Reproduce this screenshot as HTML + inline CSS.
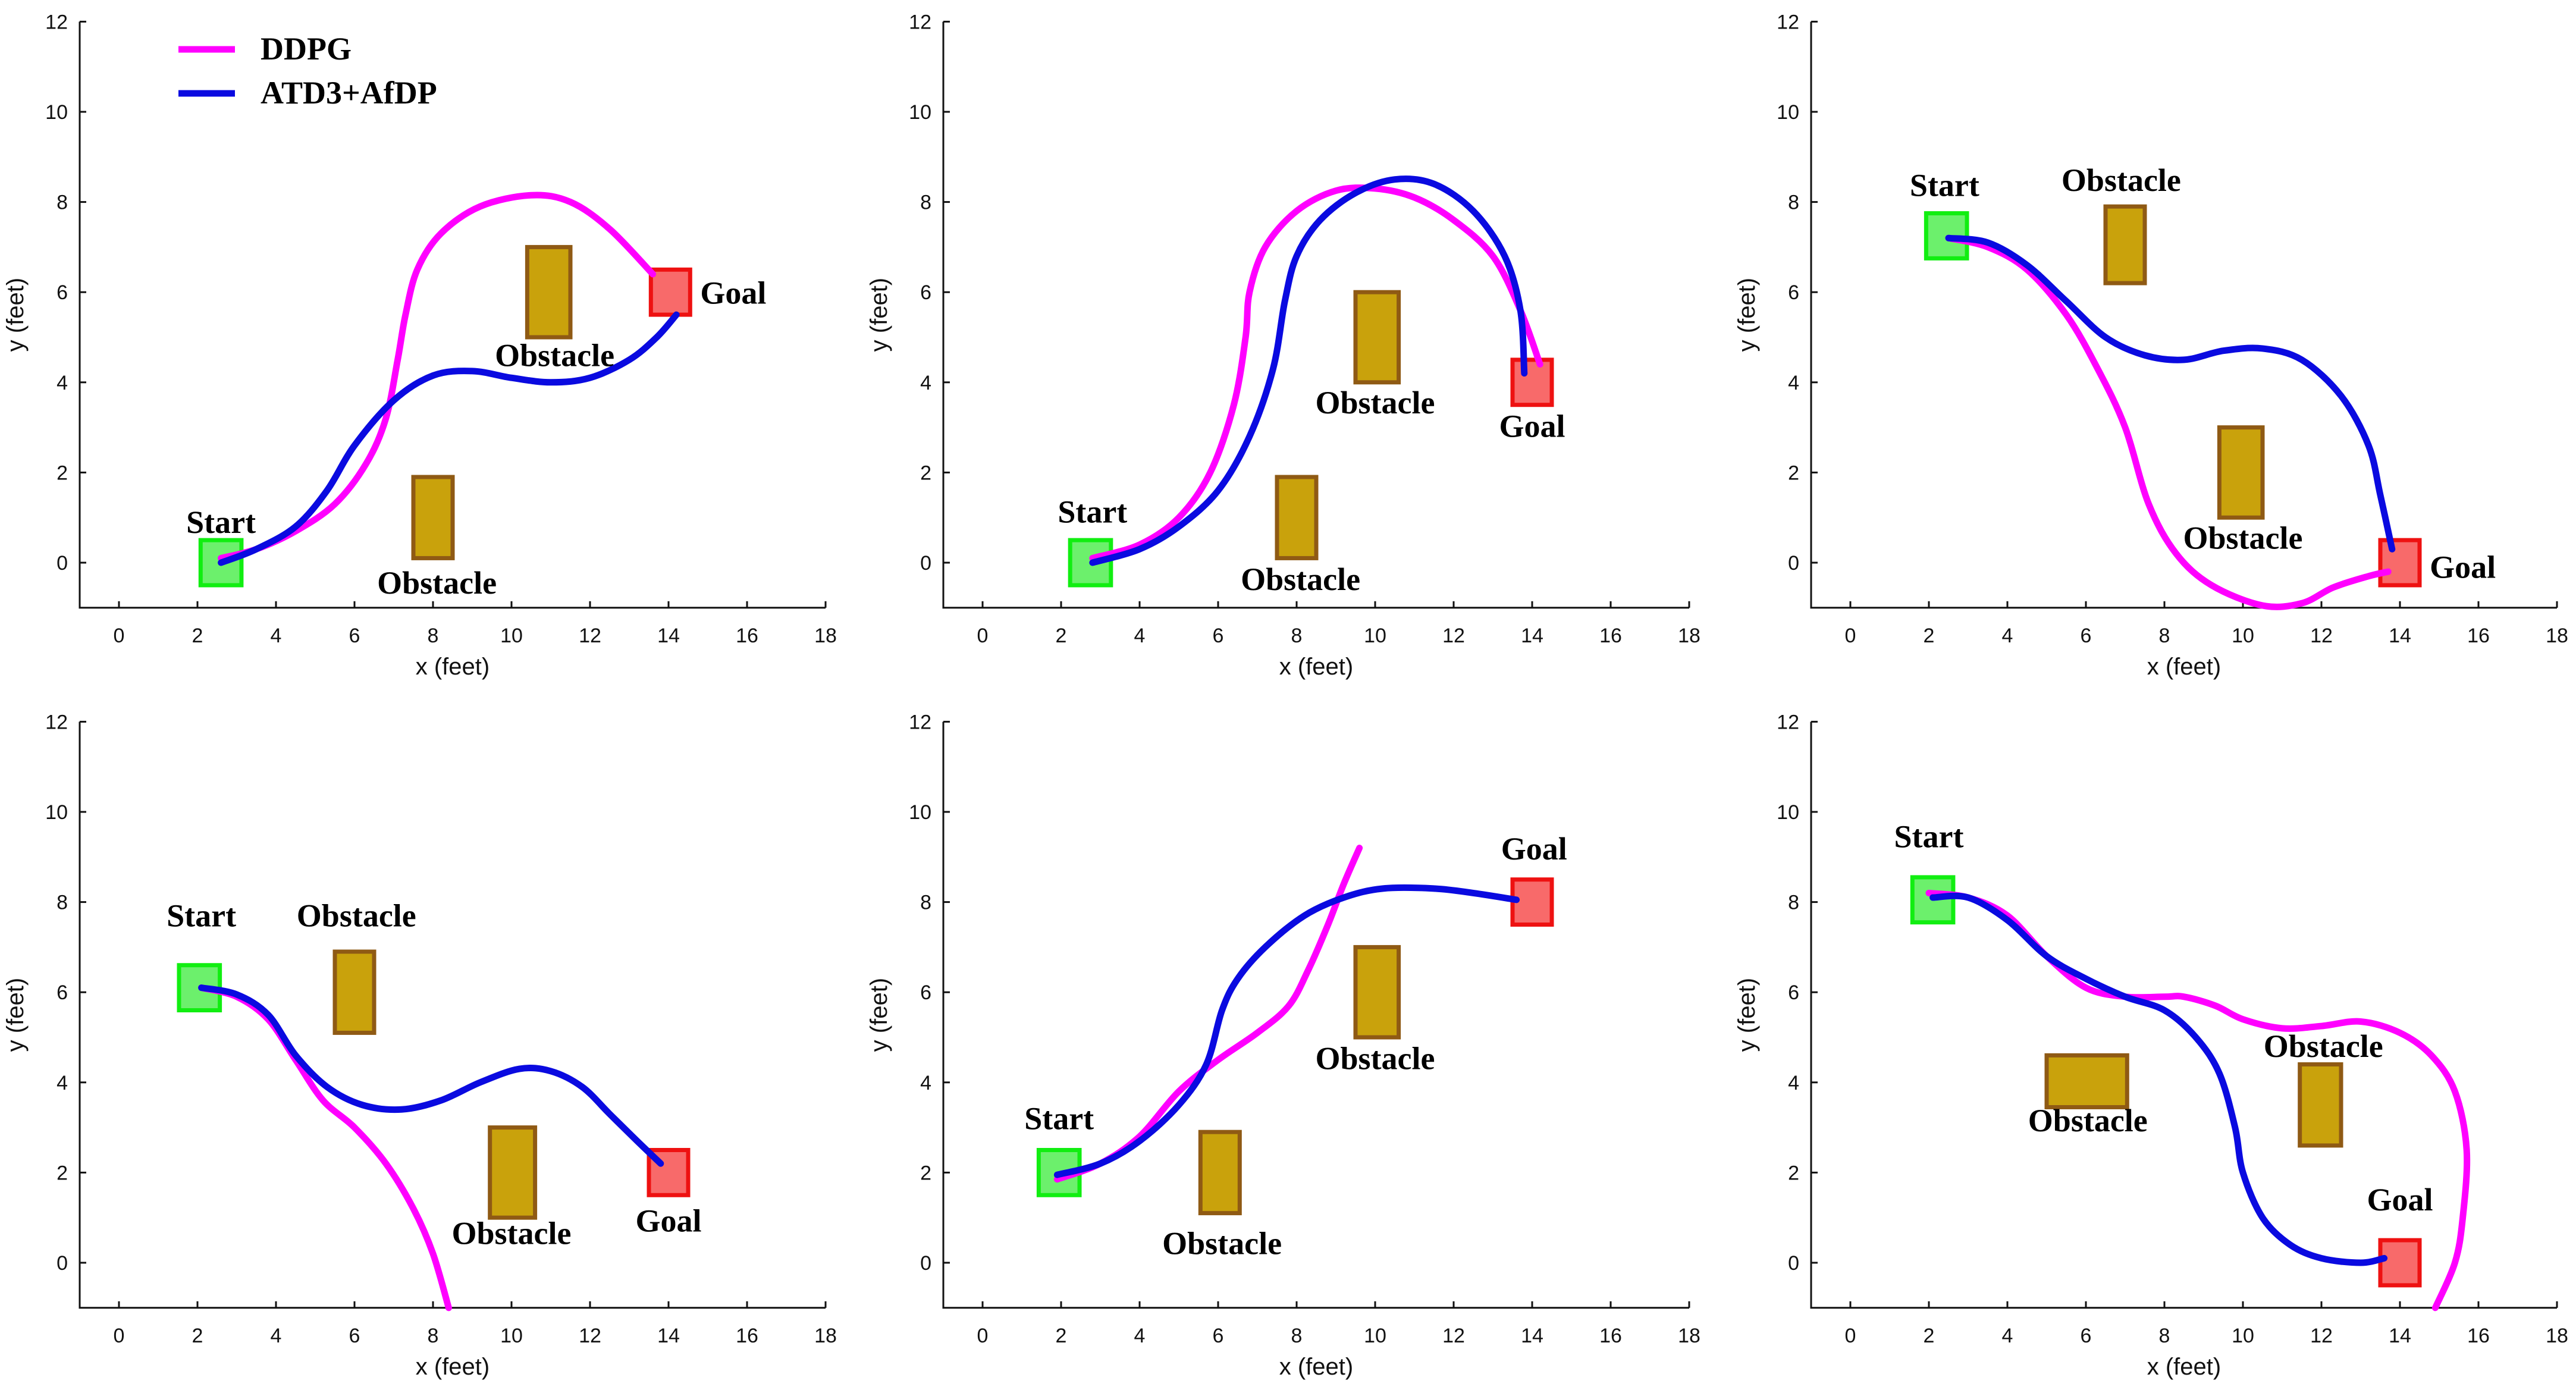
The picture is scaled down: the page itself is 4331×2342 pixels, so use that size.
<!DOCTYPE html>
<html><head><meta charset="utf-8"><style>
html,body{margin:0;padding:0;background:#fff;}
svg{display:block;}
.tick{font-family:"Liberation Sans",sans-serif;font-size:34px;fill:#111;}
.axl{font-family:"Liberation Sans",sans-serif;font-size:40px;fill:#111;}
.ann{font-family:"Liberation Serif",serif;font-weight:bold;font-size:54px;fill:#000;}
</style></head><body>
<svg id="chart" width="4331" height="2342" viewBox="0 0 4331 2342" xmlns="http://www.w3.org/2000/svg"></svg>
<script>
const xTicks=[0,2,4,6,8,10,12,14,16,18];
const yTicks=[0,2,4,6,8,10,12];
const colX0=[200,1652,3111];
const rowY0=[946,2123];
const UX=66,UY=75.8;

const p1Start=[2.6,0], p1Goal=[14.05,6];
const p1Obs=[[7.5,0.1,8.5,1.9],[10.4,5,11.5,7]];
const p1Ddpg=[[2.6,0.1],[3.5,0.3],[4.5,0.7],[5.5,1.3],[6.3,2.2],[6.8,3.2],[7.1,4.5],[7.3,5.5],[7.6,6.5],[8.2,7.3],[9.2,7.9],[10.5,8.15],[11.5,8.0],[12.5,7.4],[13.6,6.4]];
const p1Atd3=[[2.6,0],[3.5,0.3],[4.5,0.8],[5.3,1.6],[6,2.6],[7,3.6],[8,4.15],[9,4.25],[10,4.1],[11,4.0],[12,4.1],[13,4.5],[13.7,5.0],[14.2,5.5]];

const p2Start=[2.75,0], p2Goal=[14.0,4];
const p2Obs=[[7.5,0.1,8.5,1.9],[9.5,4,10.6,6]];
const p2Ddpg=[[2.8,0.1],[4,0.4],[5,1.0],[5.8,2.0],[6.4,3.5],[6.7,5],[6.8,6.0],[7.2,7.0],[8,7.8],[9,8.25],[10,8.3],[11,8.1],[12,7.6],[13,6.8],[13.7,5.6],[14.2,4.4]];
const p2Atd3=[[2.8,0],[4,0.3],[5,0.8],[6,1.6],[6.8,2.8],[7.4,4.3],[7.7,5.8],[8.0,6.8],[8.6,7.6],[9.5,8.2],[10.5,8.5],[11.5,8.4],[12.5,7.8],[13.3,6.8],[13.7,5.6],[13.8,4.2]];

const p3Start=[2.45,7.25], p3Goal=[14.0,0];
const p3Obs=[[6.5,6.2,7.5,7.9],[9.4,1,10.5,3]];
const p3Ddpg=[[2.5,7.2],[3.5,7.0],[4.5,6.5],[5.5,5.5],[6.3,4.3],[7,3.0],[7.6,1.3],[8.3,0.2],[9.2,-0.5],[10.5,-0.95],[11.5,-0.9],[12.3,-0.55],[13.2,-0.3],[13.7,-0.2]];
const p3Atd3=[[2.5,7.2],[3.5,7.1],[4.5,6.6],[5.5,5.8],[6.5,5.0],[7.5,4.6],[8.5,4.5],[9.5,4.7],[10.5,4.75],[11.5,4.5],[12.5,3.7],[13.2,2.6],[13.5,1.5],[13.8,0.3]];

const p4Start=[2.05,6.1], p4Goal=[14.0,2];
const p4Obs=[[5.5,5.1,6.5,6.9],[9.45,1,10.6,3]];
const p4Ddpg=[[2.1,6.1],[3,5.9],[3.8,5.4],[4.5,4.5],[5.2,3.6],[6,3.0],[6.8,2.2],[7.5,1.2],[8.0,0.2],[8.4,-1.0]];
const p4Atd3=[[2.1,6.1],[3,5.95],[3.8,5.5],[4.5,4.6],[5.3,3.9],[6.2,3.5],[7.2,3.4],[8.2,3.6],[9.2,4.0],[10.2,4.3],[11,4.25],[11.8,3.9],[12.5,3.3],[13.2,2.7],[13.8,2.2]];

const p5Start=[1.95,2.0], p5Goal=[14.0,8];
const p5Obs=[[5.55,1.1,6.55,2.9],[9.5,5.0,10.6,7.0]];
const p5Ddpg=[[1.9,1.85],[3,2.2],[4,2.8],[5,3.8],[6,4.5],[7,5.1],[7.8,5.7],[8.3,6.5],[8.8,7.5],[9.2,8.4],[9.6,9.2]];
const p5Atd3=[[1.9,1.95],[3,2.2],[4,2.7],[5,3.5],[5.7,4.4],[6.1,5.6],[6.5,6.3],[7.2,7.0],[8.2,7.7],[9.2,8.1],[10.2,8.3],[11.5,8.3],[12.5,8.2],[13.6,8.05]];

const p6Start=[2.1,8.05], p6Goal=[14.0,0];
const p6Obs=[[5.0,3.45,7.05,4.6],[11.45,2.6,12.5,4.4]];
const p6Ddpg=[[2.0,8.2],[3,8.1],[4,7.7],[5,6.8],[6,6.1],[7,5.9],[8,5.9],[8.5,5.9],[9.3,5.7],[10,5.4],[11,5.2],[12,5.25],[13,5.35],[14,5.1],[14.8,4.6],[15.4,3.8],[15.7,2.5],[15.6,1.0],[15.4,0],[14.9,-1.0]];
const p6Atd3=[[2.1,8.1],[3,8.1],[4,7.6],[5,6.8],[6,6.3],[7,5.9],[8,5.6],[8.8,5.0],[9.4,4.2],[9.8,3.0],[10,2.0],[10.5,1.0],[11.2,0.4],[12,0.1],[13,0],[13.6,0.1]];

const panels=[
 {c:0,r:0,s:p1Start,g:p1Goal,o:p1Obs,d:p1Ddpg,a:p1Atd3,lab:[["Start",2.6,0.9],["Obstacle",8.1,-0.45],["Obstacle",11.1,4.6],["Goal",15.65,5.98]]},
 {c:1,r:0,s:p2Start,g:p2Goal,o:p2Obs,d:p2Ddpg,a:p2Atd3,lab:[["Start",2.8,1.13],["Obstacle",8.1,-0.37],["Obstacle",10.0,3.55],["Goal",14.0,3.03]]},
 {c:2,r:0,s:p3Start,g:p3Goal,o:p3Obs,d:p3Ddpg,a:p3Atd3,lab:[["Start",2.4,8.37],["Obstacle",6.9,8.48],["Obstacle",10.0,0.55],["Goal",15.6,-0.1]]},
 {c:0,r:1,s:p4Start,g:p4Goal,o:p4Obs,d:p4Ddpg,a:p4Atd3,lab:[["Start",2.1,7.7],["Obstacle",6.05,7.7],["Obstacle",10.0,0.65],["Goal",14.0,0.93]]},
 {c:1,r:1,s:p5Start,g:p5Goal,o:p5Obs,d:p5Ddpg,a:p5Atd3,lab:[["Start",1.95,3.2],["Obstacle",6.1,0.43],["Obstacle",10.0,4.53],["Goal",14.05,9.18]]},
 {c:2,r:1,s:p6Start,g:p6Goal,o:p6Obs,d:p6Ddpg,a:p6Atd3,lab:[["Start",2.0,9.45],["Obstacle",6.05,3.15],["Obstacle",12.05,4.8],["Goal",14.0,1.4]]}
];
const NS="http://www.w3.org/2000/svg";
const svg=document.getElementById('chart');
function mk(tag,attrs,parent){const e=document.createElementNS(NS,tag);for(const k in attrs)e.setAttribute(k,attrs[k]);(parent||svg).appendChild(e);return e;}
function smooth(pts){let d='M'+pts[0][0]+','+pts[0][1];for(let i=0;i<pts.length-1;i++){const p0=pts[i-1]||pts[i],p1=pts[i],p2=pts[i+1],p3=pts[i+2]||p2;
 d+=' C'+(p1[0]+(p2[0]-p0[0])/6)+','+(p1[1]+(p2[1]-p0[1])/6)+' '+(p2[0]-(p3[0]-p1[0])/6)+','+(p2[1]-(p3[1]-p1[1])/6)+' '+p2[0]+','+p2[1];}return d;}

panels.forEach((p,i)=>{
 const x0=colX0[p.c],y0=rowY0[p.r];
 const X=v=>x0+v*UX, Y=v=>y0-v*UY;
 const g=mk('g',{});
 
 
 const ax=mk('path',{d:'M'+X(-1)+','+Y(12)+' L'+X(-1)+','+Y(-1)+' L'+X(18)+','+Y(-1),fill:'none',stroke:'#111','stroke-width':3},g);
 
 
 xTicks.forEach(t=>{
  mk('line',{x1:X(t),x2:X(t),y1:Y(-1),y2:Y(-1)-11,stroke:'#111','stroke-width':3},g);
  const tx=mk('text',{x:X(t),y:Y(-1)+58,'text-anchor':'middle',class:'tick'},g);tx.textContent=t;
  
  
 });
 yTicks.forEach(t=>{
  mk('line',{x1:X(-1),x2:X(-1)+11,y1:Y(t),y2:Y(t),stroke:'#111','stroke-width':3},g);
  const tx=mk('text',{x:X(-1)-20,y:Y(t)+12,'text-anchor':'end',class:'tick'},g);tx.textContent=t;
  
  
 });
 const xl=mk('text',{x:X(8.5),y:Y(-1)+112,'text-anchor':'middle',class:'axl'},g);xl.textContent='x (feet)';
 
 
 const yx=X(-1)-95,yy=Y(5.5);
 const yl=mk('text',{x:yx,y:yy,'text-anchor':'middle',class:'axl',transform:'rotate(-90 '+yx+' '+yy+')'},g);yl.textContent='y (feet)';
 
 
 p.o.forEach(o=>{
  const r=mk('rect',{x:X(o[0]),y:Y(o[3]),width:X(o[2])-X(o[0]),height:Y(o[1])-Y(o[3]),fill:'#c9a20c',stroke:'#8f5a14','stroke-width':7},g);
  
  
 });
 const sb=mk('rect',{x:X(p.s[0]-0.52),y:Y(p.s[1]+0.5),width:UX*1.04,height:UY,fill:'#6cf06c',stroke:'#11ee11','stroke-width':7},g);
 
 
 const gb=mk('rect',{x:X(p.g[0]-0.5),y:Y(p.g[1]+0.5),width:UX,height:UY,fill:'#f86a6a',stroke:'#ee1111','stroke-width':7},g);
 
 
 const dl=mk('path',{d:smooth(p.d.map(q=>[X(q[0]),Y(q[1])])),fill:'none',stroke:'#ff00ff','stroke-width':11,'stroke-linecap':'round'},g);
 
 
 const al=mk('path',{d:smooth(p.a.map(q=>[X(q[0]),Y(q[1])])),fill:'none',stroke:'#0a0ae0','stroke-width':11,'stroke-linecap':'round'},g);
 
 
 p.lab.forEach(l=>{
  const t=mk('text',{x:X(l[1]),y:Y(l[2])+18,'text-anchor':'middle',class:'ann'},g);t.textContent=l[0];
  
  
 });
});
const lg=mk('g',{});


const l1=mk('line',{x1:300,x2:395,y1:83,y2:83,stroke:'#ff00ff','stroke-width':11},lg);


const t1=mk('text',{x:438,y:100,class:'ann'},lg);t1.textContent='DDPG';


const l2=mk('line',{x1:300,x2:395,y1:157,y2:157,stroke:'#0a0ae0','stroke-width':11},lg);


const t2=mk('text',{x:438,y:174,class:'ann'},lg);t2.textContent='ATD3+AfDP';


</script>
</body></html>
